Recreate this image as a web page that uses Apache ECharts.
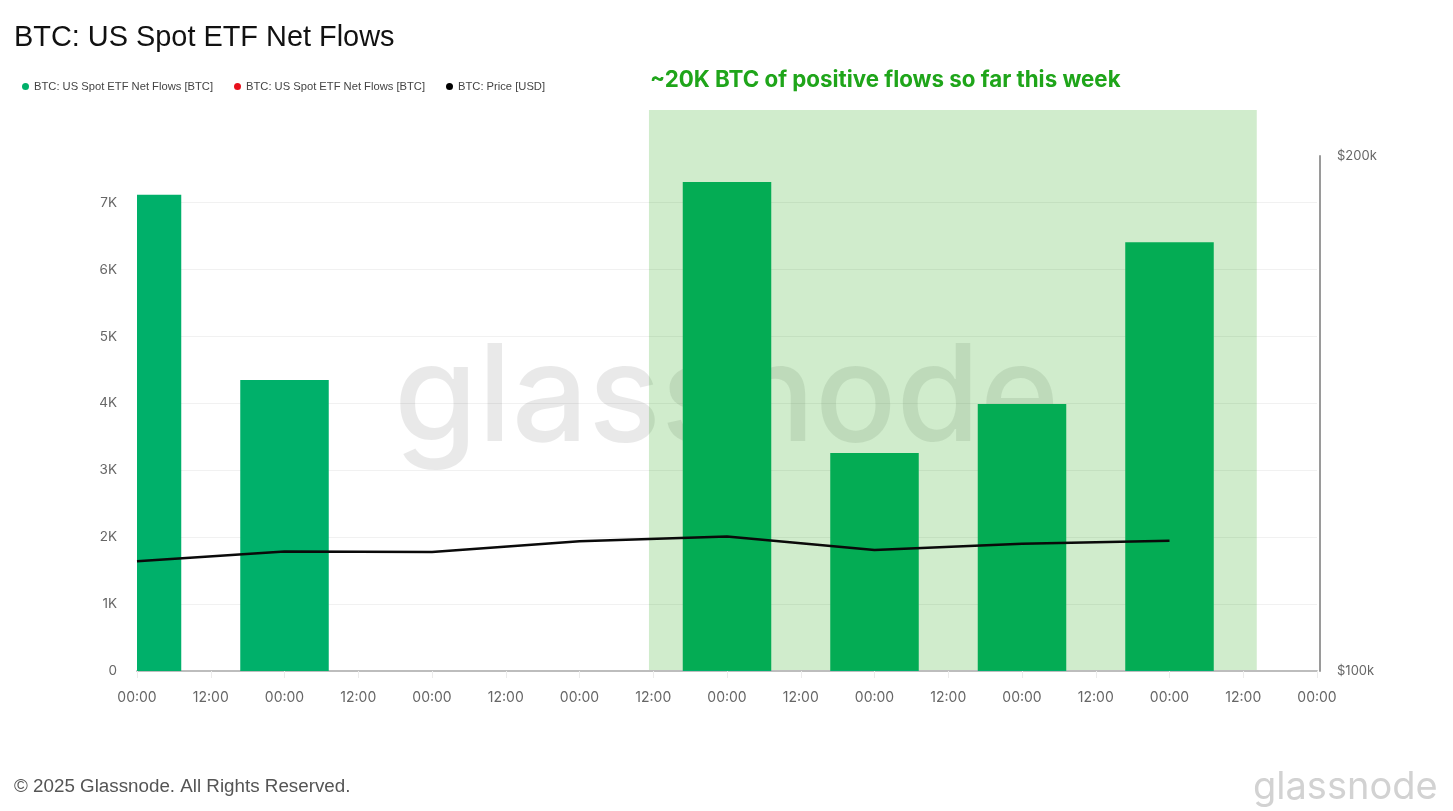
<!DOCTYPE html>
<html>
<head>
<meta charset="utf-8">
<title>BTC: US Spot ETF Net Flows</title>
<script src="https://cdn.jsdelivr.net/npm/echarts@6/dist/echarts.min.js"></script>
<style>
    html, body { margin: 0; padding: 0; background: #fff; }
    #main { width: 1453px; height: 811px; }
</style>
</head>
<body>
<div id="main"></div>
<script type="text/javascript">
    // x values are hours after the first 00:00 on the axis
    var hours = [0, 24, 48, 72, 96, 120, 144, 168];
    var positiveFlows = [7120, 4350, 0, 0, 7310, 3260, 3990, 6410];
    var negativeFlows = [0, 0, 0, 0, 0, 0, 0, 0];
    var price = [121300, 123200, 123100, 125200, 126100, 123500, 124700, 125300];
    var highlightRange = [83.3, 182.2];
    var xTickLabels = ['00:00', '12:00'];

    var flowName = 'BTC: US Spot ETF Net Flows [BTC]';
    var priceName = 'BTC: Price [USD]';
    var barHours = 14.4;

    function pairs(values) {
        return hours.map(function (h, i) { return [h, values[i]]; });
    }

    function legendAt(left, name, color) {
        return {
            left: left, top: 76, icon: 'circle', itemWidth: 7, itemHeight: 7,
            selectedMode: false,
            textStyle: { fontFamily: 'Liberation Sans', fontSize: 11.2, color: '#444' },
            data: [{ name: name, itemStyle: { color: color } }]
        };
    }

    // bars on a value axis are not clipped at the grid edge, the first one has to be
    function renderBar(params, api) {
        var base = api.coord([api.value(0), 0]);
        var top = api.coord([api.value(0), api.value(1)]);
        var width = api.size([barHours, 0])[0];
        var rect = echarts.graphic.clipRectByRect({
            x: base[0] - width / 2,
            y: top[1],
            width: width,
            height: base[1] - top[1]
        }, params.coordSys);
        return rect && { type: 'rect', shape: rect, style: { fill: api.visual('color') } };
    }

    var chart = echarts.init(document.getElementById('main'));
    var option = {
        backgroundColor: '#fff',
        animation: false,
        legend: [
            legendAt(17, flowName, '#00b06a'),
            legendAt(229, flowName, '#e8101c'),
            legendAt(441, priceName, '#000')
        ],
        grid: [
            { left: 137, right: 136, top: 156, bottom: 140 },
            { left: 137, right: 136, top: 110, bottom: 141 }
        ],
        xAxis: [
            {
                type: 'value', gridIndex: 0, min: 0, max: 192, interval: 12,
                containShape: false,
                axisLine: { onZero: false, lineStyle: { color: '#bdbdbd', width: 2 } },
                axisTick: { length: 7, lineStyle: { color: '#ececec' } },
                axisLabel: {
                    margin: 20, color: '#666', fontFamily: 'Inter', fontSize: 14,
                    formatter: function (v) { return xTickLabels[v % 24 === 0 ? 0 : 1]; }
                },
                splitLine: { show: false }
            },
            { type: 'value', gridIndex: 1, min: 0, max: 192, containShape: false, show: false }
        ],
        yAxis: [
            {
                type: 'value', gridIndex: 0, min: 0, max: 7698, interval: 1000,
                axisLine: { show: false },
                axisTick: { show: false },
                axisLabel: {
                    margin: 20, color: '#666', fontFamily: 'Inter', fontSize: 13.5,
                    showMaxLabel: false,
                    formatter: function (v) { return v === 0 ? '0' : v / 1000 + 'K'; }
                },
                splitLine: { showMaxLine: false, lineStyle: { color: '#f1f1f1' } }
            },
            {
                type: 'value', gridIndex: 0, position: 'right', offset: 3,
                min: 100000, max: 200000, interval: 100000,
                axisLine: { show: true, lineStyle: { color: '#9a9a9a', width: 2 } },
                axisTick: { show: false },
                axisLabel: {
                    margin: 17, color: '#666', fontFamily: 'Inter', fontSize: 13,
                    formatter: function (v) { return '$' + v / 1000 + 'k'; }
                },
                splitLine: { show: false }
            },
            { type: 'value', gridIndex: 1, min: 0, max: 1, show: false }
        ],
        series: [
            {
                name: flowName, type: 'custom', renderItem: renderBar,
                xAxisIndex: 0, yAxisIndex: 0, z: 2,
                itemStyle: { color: '#00b06a' },
                encode: { x: 0, y: 1 },
                data: pairs(positiveFlows)
            },
            {
                name: flowName, type: 'custom', renderItem: renderBar,
                xAxisIndex: 0, yAxisIndex: 0, z: 2,
                itemStyle: { color: '#e8101c' },
                encode: { x: 0, y: 1 },
                data: pairs(negativeFlows)
            },
            {
                name: 'highlight', type: 'line', xAxisIndex: 1, yAxisIndex: 2, z: 5,
                silent: true, data: [],
                markArea: {
                    silent: true, z: 5,
                    itemStyle: { color: 'rgba(22,160,0,0.2)' },
                    data: [[{ xAxis: highlightRange[0] }, { xAxis: highlightRange[1] }]]
                }
            },
            {
                name: priceName, type: 'line', xAxisIndex: 0, yAxisIndex: 1, z: 6,
                showSymbol: false, itemStyle: { color: '#000' },
                lineStyle: { color: '#0a0a0a', width: 2.5 },
                data: pairs(price)
            }
        ],
        graphic: [
            {
                type: 'text', left: 14, top: 24, z: 10,
                style: { text: 'BTC: US Spot ETF Net Flows', fill: '#111', font: '28.9px "Liberation Sans"' }
            },
            {
                type: 'text', left: 650, top: 69, z: 10,
                style: { text: '~20K BTC of positive flows so far this week', fill: '#1fa51a', font: 'bold 22.3px "Inter"' }
            },
            {
                type: 'text', left: 394, top: 333, z: 1,
                style: { text: 'glassnode', fill: 'rgba(0,0,0,0.085)', font: '500 135px "Inter"' }
            },
            {
                type: 'text', left: 14, top: 777, z: 10,
                style: { text: '\u00a9 2025 Glassnode. All Rights Reserved.', fill: '#555', font: '18.8px "Liberation Sans"' }
            },
            {
                type: 'text', left: 1253, top: 769, z: 10,
                style: { text: 'glassnode', fill: '#d2d2d2', font: '400 38px "Inter"' }
            }
        ]
    };
    chart.setOption(option);
</script>
</body>
</html>
